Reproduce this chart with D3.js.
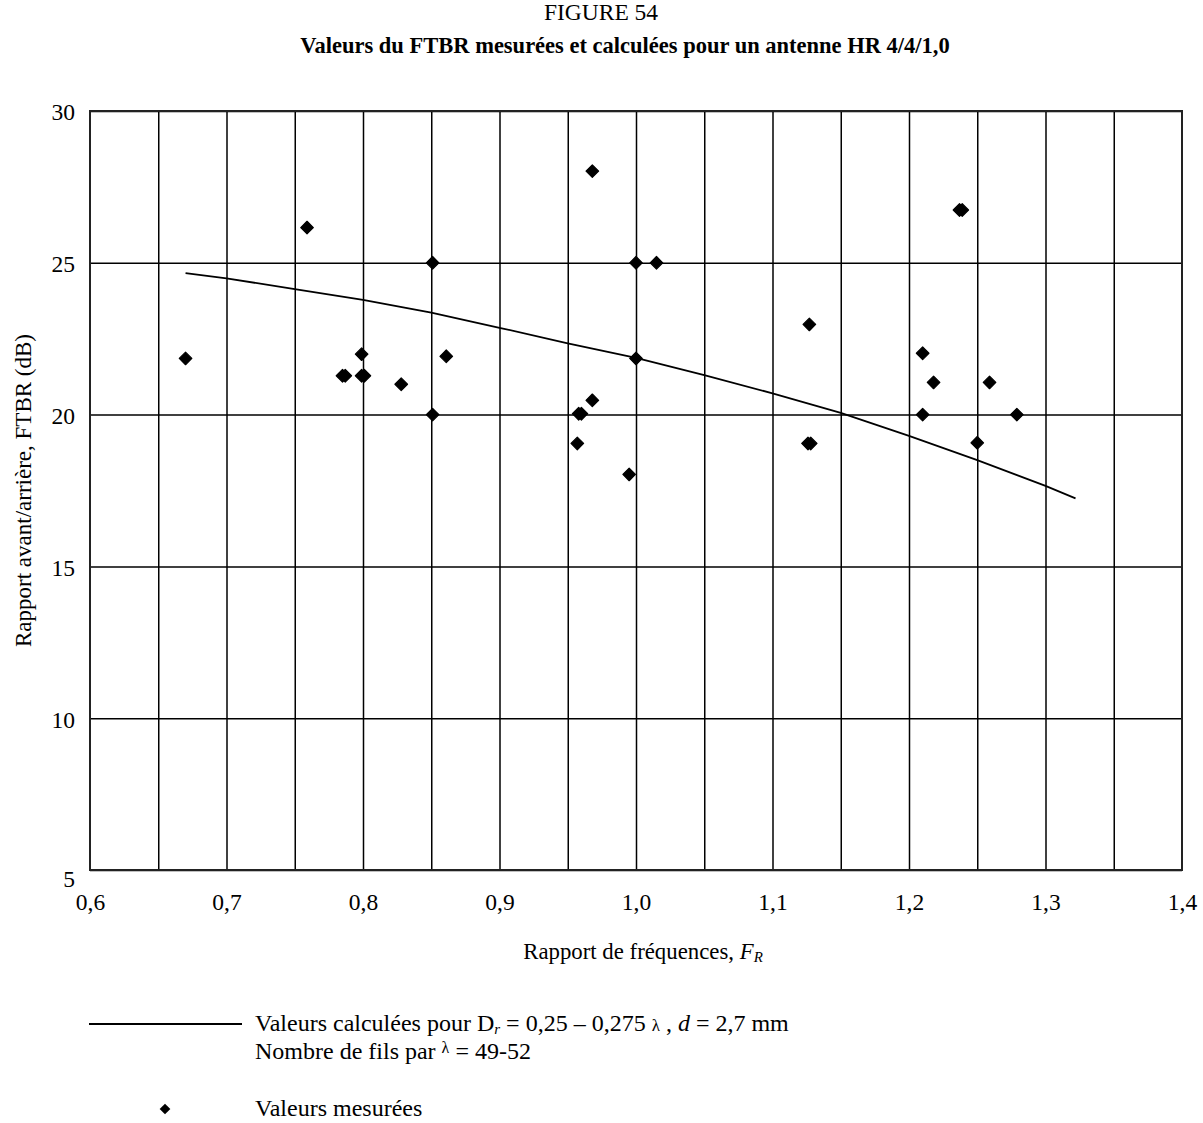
<!DOCTYPE html>
<html>
<head>
<meta charset="utf-8">
<script src="https://cdn.jsdelivr.net/npm/d3@7"></script>
<style>
  html, body { margin: 0; padding: 0; background: #fff; }
  svg { display: block; }
  text { font-family: "Liberation Serif", "Times New Roman", serif; fill: #000; }
</style>
</head>
<body>
<svg id="chart" width="1203" height="1123"></svg>
<script>
// ---------- data ----------
const titleText = "FIGURE 54";
const subtitleText = "Valeurs du FTBR mesurées et calculées pour un antenne HR 4/4/1,0";

const xTicks = [0.6, 0.7, 0.8, 0.9, 1.0, 1.1, 1.2, 1.3, 1.4];
const xTickLabels = ["0,6", "0,7", "0,8", "0,9", "1,0", "1,1", "1,2", "1,3", "1,4"];
const xGridValues = [0.65, 0.7, 0.75, 0.8, 0.85, 0.9, 0.95, 1.0, 1.05, 1.1, 1.15, 1.2, 1.25, 1.3, 1.35];
const yTicks = [5, 10, 15, 20, 25, 30];
const yTickLabels = ["5", "10", "15", "20", "25", "30"];

// calculated curve (FR, FTBR dB)
const calcFR   = [0.67, 0.70, 0.75, 0.80, 0.85, 0.90, 0.95, 1.00, 1.05, 1.10, 1.15, 1.20, 1.25, 1.30, 1.322];
const calcFTBR = [24.66, 24.49, 24.13, 23.78, 23.36, 22.86, 22.35, 21.87, 21.30, 20.70, 20.06, 19.30, 18.50, 17.65, 17.24];

// measured values (FR, FTBR dB) — some points overlap (doubled)
const measFR = [0.670, 0.759, 0.785, 0.787, 0.799, 0.799, 0.801, 0.828, 0.851, 0.851, 0.861,
                0.957, 0.958, 0.960, 0.968, 0.968, 0.995, 1.000, 1.000, 1.015,
                1.127, 1.126, 1.128, 1.210, 1.210, 1.218, 1.237, 1.239, 1.250, 1.259, 1.279];
const measFTBR = [21.85, 26.16, 21.28, 21.28, 21.99, 21.28, 21.28, 21.00, 25.00, 20.00, 21.92,
                  19.05, 20.03, 20.03, 20.47, 28.02, 18.03, 25.00, 21.85, 25.00,
                  22.97, 19.05, 19.05, 22.02, 20.00, 21.06, 26.74, 26.74, 19.07, 21.06, 20.00];

// ---------- layout ----------
const svg = d3.select("#chart");
const L = 90, R = 1182, T = 111, B = 870;
const tickFont = 23.5;
const labelFont = 22.8;
const legendFont = 24;

const x = d3.scaleLinear().domain([0.6, 1.4]).range([L, R]);
const y = d3.scaleLinear().domain([5, 30]).range([B, T]);

// titles
svg.append("text").attr("x", 601).attr("y", 20).attr("text-anchor", "middle")
  .attr("font-size", 23.5).text(titleText);
svg.append("text").attr("x", 625).attr("y", 53).attr("text-anchor", "middle")
  .attr("font-size", 22.5).attr("font-weight", "bold").text(subtitleText);

// vertical grid
svg.append("g")
  .attr("transform", `translate(0,${B})`)
  .call(d3.axisBottom(x).tickValues(xGridValues).tickSize(-(B - T)).tickFormat(""))
  .call(g => g.select(".domain").remove())
  .call(g => g.selectAll("line").attr("stroke", "#000").attr("stroke-width", 1.5));

// horizontal grid
svg.append("g")
  .attr("transform", `translate(${L},0)`)
  .call(d3.axisLeft(y).tickValues(yTicks).tickSize(-(R - L)).tickFormat(""))
  .call(g => g.select(".domain").remove())
  .call(g => g.selectAll("line").attr("stroke", "#000").attr("stroke-width", 1.5));

// frame
svg.append("rect").attr("x", L).attr("y", T).attr("width", R - L).attr("height", B - T)
  .attr("fill", "none").attr("stroke", "#222").attr("stroke-width", 2);

// x tick labels
svg.append("g")
  .attr("transform", `translate(0,${B})`)
  .call(d3.axisBottom(x).tickValues(xTicks).tickSize(0).tickPadding(23)
        .tickFormat((d, i) => xTickLabels[i]))
  .call(g => g.select(".domain").remove())
  .call(g => g.selectAll("text").attr("font-size", tickFont)
        .attr("font-family", "Liberation Serif").attr("fill", "#000"));

// y tick labels
svg.append("g")
  .attr("transform", `translate(${L},0)`)
  .call(d3.axisLeft(y).tickValues(yTicks).tickSize(0).tickPadding(15)
        .tickFormat((d, i) => yTickLabels[i]))
  .call(g => g.select(".domain").remove())
  .call(g => g.selectAll("text").attr("font-size", tickFont)
        .attr("font-family", "Liberation Serif").attr("fill", "#000")
        .attr("dy", d => d === 5 ? "0.72em" : "0.38em"));

// axis titles
const xt = svg.append("text").attr("x", 643).attr("y", 959).attr("text-anchor", "middle")
  .attr("font-size", labelFont);
xt.append("tspan").text("Rapport de fréquences, ");
xt.append("tspan").attr("font-style", "italic").text("F");
xt.append("tspan").attr("font-style", "italic").attr("font-size", 15).attr("dy", 3).text("R");

svg.append("text")
  .attr("transform", `translate(31,${(T + B) / 2}) rotate(-90)`)
  .attr("text-anchor", "middle").attr("font-size", 23)
  .text("Rapport avant/arrière, FTBR (dB)");

// calculated line
const lineData = calcFR.map((v, i) => [v, calcFTBR[i]]);
svg.append("path")
  .datum(lineData)
  .attr("fill", "none").attr("stroke", "#000").attr("stroke-width", 1.8)
  .attr("d", d3.line().x(d => x(d[0])).y(d => y(d[1])));

// measured points
const diamond = "M0,-6.3L6.3,0L0,6.3L-6.3,0Z";
const pts = measFR.map((v, i) => [v, measFTBR[i]]);
svg.append("g").selectAll("path")
  .data(pts).join("path")
  .attr("d", diamond)
  .attr("transform", d => `translate(${x(d[0])},${y(d[1])})`)
  .attr("fill", "#000").attr("stroke", "#000").attr("stroke-width", 1.2).attr("stroke-linejoin", "round");

// legend
svg.append("line").attr("x1", 89).attr("x2", 242).attr("y1", 1024).attr("y2", 1024)
  .attr("stroke", "#000").attr("stroke-width", 1.8);
const l1 = svg.append("text").attr("x", 255).attr("y", 1031).attr("font-size", legendFont);
l1.append("tspan").text("Valeurs calculées pour D");
l1.append("tspan").attr("font-style", "italic").attr("font-size", 15).attr("dy", 3).text("r");
l1.append("tspan").attr("dy", -3).text("  = 0,25 – 0,275 ");
l1.append("tspan").attr("font-size", 17).text("λ");
l1.append("tspan").text(" , ");
l1.append("tspan").attr("font-style", "italic").text("d");
l1.append("tspan").text(" = 2,7 mm");

const l2 = svg.append("text").attr("x", 255).attr("y", 1059).attr("font-size", legendFont);
l2.append("tspan").text("Nombre de fils par ");
l2.append("tspan").attr("font-size", 16).attr("dy", -6).text("λ");
l2.append("tspan").attr("dy", 6).text(" = 49-52");

svg.append("path").attr("d", diamond).attr("transform", "translate(165,1109) scale(0.85)")
  .attr("fill", "#000");
svg.append("text").attr("x", 255).attr("y", 1116).attr("font-size", legendFont).text("Valeurs mesurées");
</script>
</body>
</html>
